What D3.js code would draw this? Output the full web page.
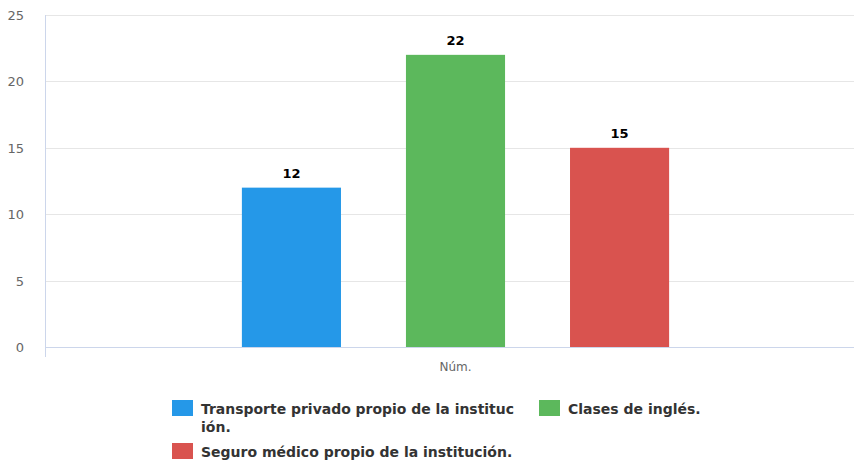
<!DOCTYPE html>
<html>
<head>
<meta charset="utf-8">
<script src="https://cdn.jsdelivr.net/npm/d3@7"></script>
<style>
  body { margin: 0; background: #fff; }
  svg { display: block; font-family: "DejaVu Sans", Verdana, sans-serif; }
</style>
</head>
<body>
<script>
// data
var categories = ['Núm.'];
var seriesNames = [
	'Transporte privado propio de la institución.',
	'Clases de inglés.',
	'Seguro médico propio de la institución.'
];
var seriesValues = [12, 22, 15];
var seriesColors = ['#2598e8', '#5cb85c', '#d9534f'];
var yTicks = [0, 5, 10, 15, 20, 25];

var width = 854,
	height = 463;

var margin = { top: 15, left: 45, bottom: 116 };

var svg = d3.select('body')
	.append('svg')
	.attr('width', width)
	.attr('height', height);

// scales
var y = d3.scaleLinear()
	.domain([0, 25])
	.range([height - margin.bottom, margin.top]);

var x0 = d3.scaleBand()
	.domain(categories)
	.range([margin.left, 866])
	.paddingOuter(0.334);

var x1 = d3.scaleBand()
	.domain(seriesNames)
	.range([0, x0.bandwidth()])
	.paddingInner(0.396)
	.paddingOuter(0.198);

// gridlines
svg.append('g')
	.selectAll('line')
	.data(yTicks.slice(1))
	.enter().append('line')
	.attr('x1', margin.left)
	.attr('x2', width)
	.attr('y1', function(d) { return Math.round(y(d)) + 0.5; })
	.attr('y2', function(d) { return Math.round(y(d)) + 0.5; })
	.attr('stroke', '#e6e6e6');

// y tick labels
svg.append('g')
	.selectAll('text')
	.data(yTicks)
	.enter().append('text')
	.attr('x', 24)
	.attr('y', function(d) { return y(d) + 5; })
	.attr('text-anchor', 'end')
	.attr('fill', '#666')
	.style('font-size', '13px')
	.text(function(d) { return d; });

// axis lines
svg.append('line')
	.attr('x1', margin.left + 0.5).attr('x2', margin.left + 0.5)
	.attr('y1', margin.top).attr('y2', y(0) + 10)
	.attr('stroke', '#ccd6eb');

svg.append('line')
	.attr('x1', margin.left).attr('x2', width)
	.attr('y1', Math.round(y(0)) + 0.5).attr('y2', Math.round(y(0)) + 0.5)
	.attr('stroke', '#ccd6eb');

// x label
svg.append('text')
	.attr('x', x0(categories[0]) + x0.bandwidth() / 2)
	.attr('y', y(0) + 24)
	.attr('text-anchor', 'middle')
	.attr('fill', '#666')
	.style('font-size', '12px')
	.text(categories[0]);

// bars
var bars = svg.append('g')
	.attr('transform', 'translate(' + x0(categories[0]) + ',0)');

bars.selectAll('rect')
	.data(seriesValues)
	.enter().append('rect')
	.attr('x', function(d, i) { return x1(seriesNames[i]); })
	.attr('y', function(d) { return y(d); })
	.attr('width', x1.bandwidth())
	.attr('height', function(d) { return y(0) - y(d); })
	.attr('fill', function(d, i) { return seriesColors[i]; });

bars.selectAll('text')
	.data(seriesValues)
	.enter().append('text')
	.attr('x', function(d, i) { return x1(seriesNames[i]) + x1.bandwidth() / 2; })
	.attr('y', function(d) { return y(d) - 10; })
	.attr('text-anchor', 'middle')
	.attr('fill', '#000')
	.style('font-size', '13px')
	.style('font-weight', 'bold')
	.text(function(d) { return d; });

// legend (first label is wrapped mid-word, as in the original)
var legendItems = [
	{ i: 0, x: 172, y: 400, lines: ['Transporte privado propio de la instituc', 'ión.'], fit: 313 },
	{ i: 1, x: 539, y: 400, lines: ['Clases de inglés.'] },
	{ i: 2, x: 172, y: 443, lines: ['Seguro médico propio de la institución.'] }
];

var legend = svg.append('g')
	.selectAll('g')
	.data(legendItems)
	.enter().append('g')
	.attr('transform', function(d) { return 'translate(' + d.x + ',' + d.y + ')'; });

legend.append('rect')
	.attr('width', 21)
	.attr('height', 16)
	.attr('fill', function(d) { return seriesColors[d.i]; });

legend.append('text')
	.attr('y', 14)
	.attr('fill', '#333')
	.style('font-size', '14px')
	.style('font-weight', 'bold')
	.selectAll('tspan')
	.data(function(d) {
		return d.lines.map(function(t, j) { return { t: t, fit: j === 0 ? d.fit : null }; });
	})
	.enter().append('tspan')
	.attr('x', 29)
	.attr('dy', function(d, j) { return j ? 18 : 0; })
	.attr('textLength', function(d) { return d.fit; })
	.attr('lengthAdjust', 'spacingAndGlyphs')
	.text(function(d) { return d.t; });
</script>
</body>
</html>
